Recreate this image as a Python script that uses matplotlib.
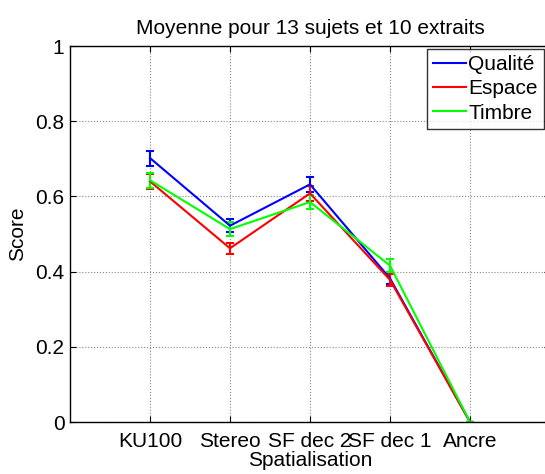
import numpy as np
import matplotlib.pyplot as plt

plt.rcParams['font.family'] = ['Liberation Sans', 'DejaVu Sans']

# data
conditions = ['KU100', 'Stereo', 'SF dec 2', 'SF dec 1', 'Ancre']
qualite = [0.702, 0.522, 0.632, 0.382, 0.0]
qualite_err = [0.02, 0.018, 0.02, 0.015, 0.0]
espace = [0.640, 0.462, 0.608, 0.378, 0.0]
espace_err = [0.02, 0.015, 0.02, 0.016, 0.0]
timbre = [0.643, 0.513, 0.585, 0.416, 0.0]
timbre_err = [0.02, 0.018, 0.018, 0.018, 0.0]

x = np.arange(1, len(conditions) + 1)

fig = plt.figure(figsize=(5.45, 4.74), dpi=100)
ax = fig.add_axes([70 / 545, 52 / 474, 480 / 545, 376 / 474])

series = [(qualite, qualite_err, 'Qualité', '#0000ff'),
          (espace, espace_err, 'Espace', '#ff0000'),
          (timbre, timbre_err, 'Timbre', '#00ff00')]
handles = []
for vals, err, name, col in series:
    ax.errorbar(x, vals, yerr=err, color=col, lw=1.5, elinewidth=1.5,
                capsize=3, capthick=1.5)
    h, = ax.plot([], [], color=col, lw=1.5, label=name)
    handles.append(h)

ax.set_xlim(0, 6)
ax.set_ylim(0, 1)
ax.set_xticks(x)
ax.set_xticklabels(conditions)
ax.set_yticks([0, 0.2, 0.4, 0.6, 0.8, 1])
ax.set_yticklabels(['0', '0.2', '0.4', '0.6', '0.8', '1'])
ax.tick_params(direction='in', labelsize=15, length=4, top=True, right=True,
               pad=4)
ax.tick_params(axis='x', pad=7)
ax.grid(True, linestyle=':', color='#888888', lw=0.8)
ax.set_axisbelow(True)
for s in ax.spines.values():
    s.set_linewidth(1.0)

ax.set_title('Moyenne pour 13 sujets et 10 extraits', fontsize=15, pad=9)
ax.set_xlabel('Spatialisation', fontsize=15, labelpad=0)
ax.set_ylabel('Score', fontsize=15, labelpad=6)

leg = ax.legend(handles=handles, loc='upper right',
                bbox_to_anchor=(544 / 545, 1 - 49 / 474),
                bbox_transform=fig.transFigure, borderaxespad=0,
                fancybox=False, edgecolor='black', fontsize=15,
                handlelength=1.6, handletextpad=0.1, labelspacing=0.25,
                borderpad=0.3)
leg.get_frame().set_linewidth(1.0)

fig.savefig('out.png', dpi=100)
